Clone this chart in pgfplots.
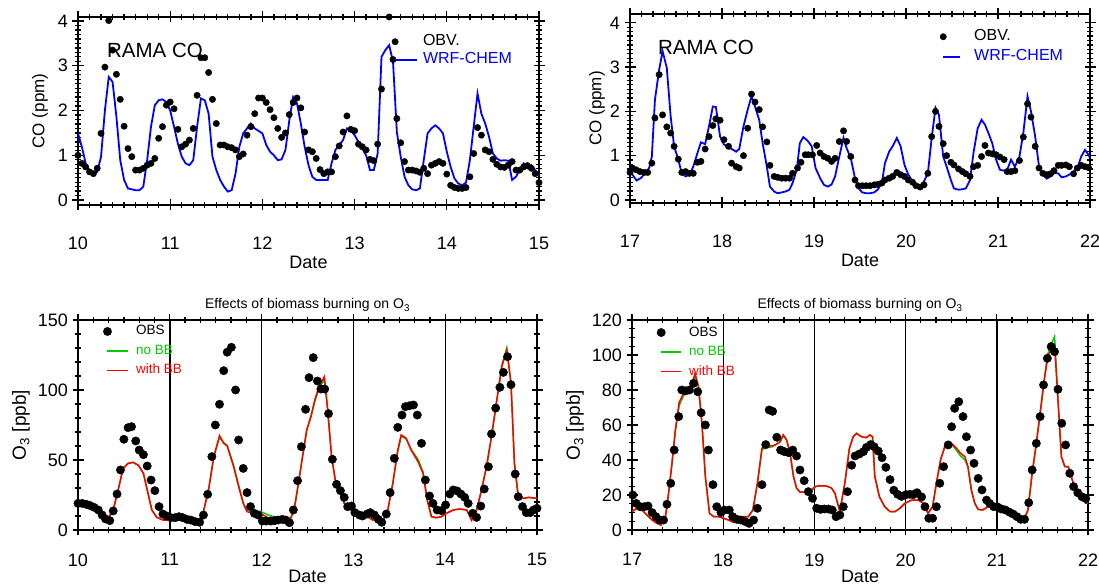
\documentclass[border=0pt]{standalone}
\usepackage{pgfplots}
\pgfplotsset{compat=1.18}
\usepackage{fontspec}
\setmainfont{Liberation Sans}
\definecolor{idlgreen}{RGB}{0,205,0}
\pgfplotsset{
  common/.style={
    scale only axis,
    axis line style={black, line width=1.6pt},
    tick align=center,
    major tick length=11pt, minor tick length=6pt,
    tick style={black, line width=1.3pt},
    /pgf/number format/assume math mode=true,
    tick label style={font=\fontsize{18}{20}\selectfont},
    yticklabel shift=1pt,
    xmin=0, xmax=120, xtick={0,24,...,120},
  },
  topax/.style={common,
    minor x tick num=7, minor y tick num=9, ytick={0,1,2,3,4},
    xticklabel shift=23pt,
    xlabel style={at={(axis description cs:0.5,-0.303)}, anchor=center},
    ylabel style={anchor=center},
    xlabel={\fontsize{18}{20}\selectfont Date}, ylabel={\fontsize{17}{19}\selectfont CO (ppm)},
  },
  botax/.style={common,
    minor x tick num=5,
    xticklabel shift=14.5pt,
    xlabel style={at={(axis description cs:0.5,-0.22)}, anchor=center},
    ylabel style={anchor=center},
    xlabel={\fontsize{18}{20}\selectfont Date}, ylabel={\fontsize{19}{21}\selectfont O\textsubscript{3} [ppb]},
    title={\fontsize{14}{16}\selectfont Effects of biomass burning on O\textsubscript{3}},
    title style={at={(axis description cs:0.5,1)}, anchor=base, yshift=5pt},
    extra x ticks={24,48,72,96}, extra x tick labels={},
    extra x tick style={grid=major, major grid style={black, line width=1.4pt}},
  },
  dotleg/.style={legend image code/.code={\draw[##1] plot coordinates {(0pt,0pt)};}},
  lineleg/.style 2 args={legend image code/.code={\draw[draw=#2, line width=1.8pt] (0pt,0pt) -- (#1,0pt);}},
}
\begin{document}
\begin{tikzpicture}
\useasboundingbox (0,0) rectangle (1099pt,585pt);

% ---------------- top left ----------------
\begin{axis}[topax, at={(78pt,380pt)}, anchor=south west, width=461pt, height=188pt,
  ymin=-0.11, ymax=4.09, xticklabels={10,11,12,13,14,15},
  ylabel style={at={(axis description cs:-0.0824,0.5)}},
  legend style={draw=none, fill=none, at={(axis description cs:0.681,0.9136)}, anchor=north west,
    inner sep=0pt, outer sep=0pt, row sep=1pt, font=\fontsize{16}{18}\selectfont,
    nodes={inner sep=1pt, text height=11.5pt, text depth=3.5pt},
    /tikz/every odd column/.append style={column sep=4pt}},
  legend cell align=left]
\addplot[only marks, mark=*, mark size=3.2pt, black, dotleg] coordinates {
(0,1.00)(1,0.82)(2,0.74)(3,0.63)(4,0.59)(5,0.71)(6,1.49)(7,2.97)(8,4.01)(9,3.35)(10,2.81)(11,2.25)(12,1.65)(13,1.15)(14,0.97)(15,0.67)(16,0.67)(17,0.71)(18,0.78)(19,0.82)(20,0.93)(21,1.38)(22,1.64)(23,2.12)(24,2.19)(25,2.04)(26,1.58)(27,1.19)(28,1.25)(29,1.34)(30,1.60)(31,2.34)(32,3.18)(33,3.18)(34,2.85)(35,2.25)(36,1.71)(37,1.23)(38,1.23)(39,1.19)(40,1.17)(41,1.12)(42,0.97)(43,1.03)(44,1.45)(45,1.64)(46,1.93)(47,2.28)(48,2.28)(49,2.18)(50,2.02)(51,1.84)(52,1.60)(53,1.40)(54,1.50)(55,1.91)(56,2.18)(57,2.28)(58,2.06)(59,1.52)(60,1.12)(61,1.08)(62,0.93)(63,0.68)(64,0.59)(65,0.63)(66,0.63)(67,0.97)(68,1.21)(69,1.52)(70,1.88)(71,1.58)(72,1.55)(73,1.25)(74,1.19)(75,1.12)(76,0.91)(77,0.88)(78,1.25)(79,2.48)(81,4.09)(82,3.14)(83,1.82)(84,1.28)(85,0.86)(86,0.67)(87,0.67)(88,0.65)(89,0.62)(90,0.71)(91,0.59)(92,0.78)(93,0.82)(94,0.86)(95,0.82)(96,0.58)(97,0.33)(98,0.28)(99,0.26)(100,0.26)(101,0.28)(102,0.52)(103,1.04)(104,1.62)(105,1.45)(106,1.12)(107,1.08)(108,0.91)(109,0.80)(110,0.74)(111,0.73)(112,0.78)(113,0.86)(114,0.67)(115,0.67)(116,0.74)(117,0.77)(118,0.71)(119,0.59)(120,0.39)};
\addlegendentry{OBV.}
\addplot[blue, line width=1.8pt, lineleg={22pt}{blue}] coordinates {
(0,1.49)(1,1.19)(2,0.82)(3,0.63)(4,0.56)(5,0.63)(6,0.97)(7,2.00)(8,2.75)(9,2.64)(10,1.86)(11,0.89)(12,0.45)(13,0.26)(15,0.22)(16,0.22)(17,0.30)(18,0.89)(19,1.64)(20,2.12)(21,2.23)(22,2.25)(23,2.19)(24,2.00)(25,1.64)(26,1.26)(27,0.97)(28,0.82)(29,0.78)(30,0.89)(31,1.64)(32,2.27)(33,2.23)(34,1.93)(35,0.97)(36,0.67)(37,0.45)(38,0.30)(39,0.19)(40,0.22)(41,0.59)(42,1.19)(43,1.49)(45,1.71)(46,1.60)(48,1.49)(49,1.23)(50,1.08)(51,1.00)(52,0.89)(53,0.91)(54,1.12)(55,1.78)(56,2.30)(57,2.16)(58,1.71)(59,1.19)(60,0.78)(61,0.52)(62,0.45)(63,0.45)(64,0.45)(65,0.45)(66,0.82)(67,1.12)(68,1.23)(69,1.34)(70,1.60)(71,1.56)(72,1.45)(73,1.30)(74,1.15)(75,1.00)(76,0.67)(77,0.67)(78,1.04)(79,3.20)(80,3.35)(81,3.46)(82,3.09)(83,1.52)(84,0.97)(85,0.52)(86,0.33)(87,0.24)(88,0.22)(89,0.26)(90,0.89)(91,1.49)(92,1.60)(93,1.67)(94,1.60)(95,1.49)(96,1.08)(97,0.74)(98,0.48)(99,0.37)(100,0.33)(101,0.39)(102,0.89)(103,1.64)(104,2.38)(105,1.93)(106,1.71)(107,1.41)(108,1.04)(109,0.93)(110,0.88)(111,0.89)(112,0.88)(113,0.45)(114,0.52)(115,0.67)(116,0.82)(117,0.71)(118,0.78)(119,0.67)(120,0.56)};
\addlegendentry{\textcolor{blue}{WRF-CHEM}}
\node[font=\fontsize{20.5}{22}\selectfont, inner sep=0pt] at (axis description cs:0.167,0.824) {RAMA CO};
\end{axis}

% ---------------- top right ----------------
\begin{axis}[topax, at={(630pt,382pt)}, anchor=south west, width=460pt, height=189pt,
  ymin=-0.07, ymax=4.2, xticklabels={17,18,19,20,21,22},
  ylabel style={at={(axis description cs:-0.0717,0.5)}},
  legend style={draw=none, fill=none, at={(axis description cs:0.674,0.9246)}, anchor=north west,
    inner sep=0pt, outer sep=0pt, row sep=3pt, font=\fontsize{16}{18}\selectfont,
    nodes={inner sep=1pt, text height=11.5pt, text depth=3.5pt},
    /tikz/every odd column/.append style={column sep=12pt}},
  legend cell align=left]
\addplot[only marks, mark=*, mark size=3.2pt, black, dotleg] coordinates {
(0,0.62)(0.6,0.72)(1.6,0.68)(2.6,0.64)(3.7,0.62)(4.6,0.62)(5.7,0.83)(6.5,1.85)(7.6,2.83)(8.5,1.92)(9.6,1.65)(10.6,1.51)(11.5,1.21)(12.6,0.92)(13.5,0.62)(14.5,0.64)(15.5,0.60)(16.5,0.60)(17.6,0.85)(18.5,0.87)(19.6,1.15)(20.6,1.43)(21.6,1.68)(22.4,1.83)(23.5,1.80)(24.5,1.36)(25.7,1.21)(26.5,0.83)(27.7,0.75)(28.5,0.72)(29.6,1.00)(30.7,1.62)(31.7,2.39)(32.6,2.21)(33.7,2.04)(34.6,1.65)(35.7,1.31)(36.5,0.78)(37.6,0.53)(38.5,0.51)(39.6,0.49)(40.6,0.49)(41.6,0.49)(42.4,0.60)(43.7,0.72)(44.6,0.85)(45.7,1.02)(46.5,1.02)(47.6,1.02)(48.7,1.23)(49.6,1.06)(50.6,0.98)(51.6,0.94)(52.6,0.87)(53.5,0.94)(54.6,1.32)(55.7,1.56)(56.5,1.32)(57.6,0.98)(58.7,0.45)(59.6,0.32)(60.6,0.32)(61.6,0.32)(62.6,0.32)(63.7,0.34)(64.6,0.35)(65.7,0.38)(66.5,0.45)(67.6,0.49)(68.5,0.53)(69.6,0.62)(70.6,0.57)(71.6,0.53)(72.6,0.45)(73.7,0.40)(74.6,0.32)(75.7,0.29)(76.7,0.34)(77.7,0.60)(78.7,1.43)(79.7,2.00)(80.6,1.66)(81.7,1.27)(82.6,1.00)(83.7,0.85)(84.5,0.79)(85.7,0.70)(86.7,0.64)(87.6,0.59)(88.7,0.53)(89.6,0.75)(90.7,0.78)(91.7,0.98)(92.6,1.23)(93.5,1.06)(94.5,1.04)(95.5,1.02)(96.5,0.97)(97.6,0.91)(98.4,0.64)(99.4,0.64)(100.4,0.66)(101.6,0.89)(102.6,1.42)(103.7,2.17)(104.6,1.87)(105.7,1.21)(106.7,0.72)(107.7,0.60)(108.7,0.57)(109.7,0.59)(110.6,0.66)(111.7,0.78)(112.6,0.78)(113.7,0.79)(114.6,0.75)(115.7,0.59)(116.7,0.72)(117.7,0.78)(118.7,0.75)(119.6,0.73)};
\addlegendentry{OBV.}
\addplot[blue, line width=1.8pt, lineleg={17pt}{blue}] coordinates {
(0,0.80)(0.4,0.60)(1.7,0.44)(2.8,0.49)(3.9,0.60)(5.0,0.72)(5.7,0.98)(6.5,2.26)(7.6,2.94)(8.5,3.36)(9.6,2.98)(10.6,1.89)(11.5,1.21)(12.6,0.91)(13.5,0.60)(14.5,0.53)(15.5,0.57)(16.5,0.75)(17.6,1.06)(18.5,1.30)(19.6,1.26)(20.6,1.66)(21.6,2.11)(22.4,2.10)(23.5,1.43)(24.5,1.25)(25.7,1.21)(26.5,1.15)(27.7,1.09)(28.5,1.15)(29.6,1.66)(30.7,2.04)(31.7,2.34)(32.6,2.11)(33.7,1.81)(34.6,1.28)(35.7,0.75)(36.5,0.30)(37.6,0.19)(38.5,0.15)(39.6,0.17)(40.6,0.19)(41.6,0.23)(42.4,0.38)(43.5,0.68)(44.3,1.28)(45.2,1.42)(46.3,1.34)(47.4,1.21)(48.4,0.72)(49.6,0.49)(50.6,0.34)(51.6,0.30)(52.6,0.35)(53.5,0.53)(54.6,0.98)(55.7,1.40)(56.5,1.17)(57.6,0.94)(58.7,0.49)(59.6,0.26)(60.6,0.17)(61.6,0.15)(62.6,0.15)(63.7,0.17)(64.6,0.23)(65.7,0.38)(66.5,0.83)(67.6,1.09)(68.5,1.21)(69.6,1.40)(70.6,1.21)(71.6,0.79)(72.6,0.57)(73.7,0.42)(74.6,0.34)(75.7,0.30)(76.7,0.42)(77.7,0.60)(78.7,1.40)(79.7,2.08)(80.6,1.92)(81.7,0.98)(82.6,0.75)(83.7,0.45)(84.5,0.26)(85.7,0.23)(86.7,0.24)(87.6,0.26)(88.7,0.45)(89.6,1.06)(90.7,1.62)(91.7,1.81)(92.6,1.70)(93.5,1.51)(94.5,1.28)(95.5,0.91)(96.5,0.68)(97.6,0.66)(98.4,0.68)(99.4,0.91)(100.4,0.75)(101.6,0.98)(102.6,1.51)(103.7,2.34)(104.6,2.00)(105.7,1.43)(106.7,0.75)(107.7,0.57)(108.7,0.48)(109.7,0.53)(110.6,0.60)(111.7,0.60)(112.6,0.51)(113.7,0.53)(114.6,0.57)(115.7,0.64)(116.7,0.72)(117.7,0.98)(118.7,1.13)(119.6,1.02)(120,0.95)};
\addlegendentry{\textcolor{blue}{WRF-CHEM}}
\node[font=\fontsize{20.5}{22}\selectfont, inner sep=0pt] at (axis description cs:0.165,0.825) {RAMA CO};
\end{axis}

% ---------------- bottom left ----------------
\begin{axis}[botax, at={(78pt,55pt)}, anchor=south west, width=459pt, height=210pt,
  ymin=0, ymax=150, ytick={0,50,100,150}, minor y tick num=4, xticklabels={10,11,12,13,14,15},
  ylabel style={at={(axis description cs:-0.124,0.5)}},
  legend style={draw=none, fill=none, at={(axis description cs:0.0551,0.981)}, anchor=north west,
    inner sep=0pt, outer sep=0pt, row sep=4.5pt, font=\fontsize{13.5}{15}\selectfont,
    nodes={inner sep=1pt, text height=10pt, text depth=3pt},
    /tikz/every odd column/.append style={column sep=5.7pt}},
  legend cell align=left]
\addplot[only marks, mark=*, mark size=4.2pt, black, dotleg] coordinates {
(0,19.0)(1.1,19.0)(2.2,18.3)(3.2,17.4)(4.2,16.2)(5.3,14.3)(6.3,10.7)(7.2,7.9)(8.3,6.7)(9.2,13.6)(10.2,25.7)(11.1,42.9)(12.0,64.8)(13.1,73.1)(14.0,73.8)(15.1,63.6)(16.0,57.1)(17.1,53.8)(18.1,45.7)(19.1,35.7)(20.1,28.1)(21.2,16.7)(22.2,11.4)(23.2,10.0)(24.3,8.8)(25.4,8.8)(26.4,9.5)(27.4,8.8)(28.5,7.6)(29.5,7.1)(30.6,6.0)(31.8,5.5)(32.8,10.7)(33.9,25.5)(35.0,52.4)(35.9,75.0)(37.0,89.8)(38.1,113.8)(39.0,127.0)(40.1,130.5)(41.2,100.0)(42.0,64.3)(43.2,44.0)(44.2,26.7)(45.1,16.7)(46.1,11.9)(47.1,10.7)(48.2,6.4)(49.2,6.4)(50.4,6.4)(51.4,6.7)(52.3,7.1)(53.4,7.6)(54.3,7.1)(55.3,5.2)(56.3,14.3)(57.4,35.2)(58.4,59.5)(59.5,86.2)(60.4,108.8)(61.5,123.1)(62.6,106.4)(63.5,100.7)(64.5,100.7)(65.5,83.1)(66.5,50.5)(67.6,32.6)(68.6,28.1)(69.6,23.3)(70.5,16.7)(71.5,17.1)(72.4,12.4)(73.6,10.7)(74.4,10.0)(75.6,11.4)(76.4,12.4)(77.5,10.7)(78.5,7.6)(79.4,5.5)(80.6,11.4)(81.6,26.7)(82.7,51.2)(83.6,73.3)(84.7,82.1)(85.6,88.1)(86.7,88.8)(87.7,89.3)(88.7,82.1)(89.8,61.9)(90.8,35.7)(91.9,24.3)(92.8,19.0)(93.9,14.3)(95.0,13.8)(96.1,17.9)(97.2,25.7)(98.1,28.6)(99.1,27.9)(100.1,25.7)(101.1,23.3)(102.0,19.0)(103.2,11.9)(104.2,9.0)(105.3,17.1)(106.2,29.3)(107.3,45.2)(108.1,68.6)(109.2,87.1)(110.3,101.9)(111.2,112.6)(112.3,123.8)(113.2,103.8)(114.3,40.0)(115.1,23.8)(116.2,16.7)(117.2,12.4)(118.2,12.4)(119.1,14.3)(120.0,15.5)};
\addlegendentry{OBS}
\addplot[idlgreen, line width=1.5pt, lineleg={21pt}{idlgreen}] coordinates {
(0,17.1)(2.2,17.6)(4.4,15.7)(5.7,13.1)(7.0,9.5)(7.9,8.3)(9.2,14.3)(10.5,28.6)(11.8,44.0)(13.1,47.6)(14.4,48.3)(15.8,46.2)(17.1,40.5)(18.1,28.6)(19.3,14.3)(20.6,9.0)(22.3,7.1)(24.1,7.1)(25.4,8.8)(27.1,8.8)(28.5,7.6)(30.2,7.1)(31.5,6.0)(32.8,13.1)(34.2,29.8)(35.5,52.4)(37.0,66.0)(38.1,62.5)(39.0,60.5)(40.7,46.0)(42.0,32.0)(43.2,19.5)(44.2,13.5)(45.8,12.5)(47.7,13.3)(49.5,11.0)(51.2,9.5)(53.0,8.8)(54.3,8.3)(55.6,8.5)(56.5,14.3)(57.5,31.0)(58.7,52.4)(59.8,71.4)(60.9,81.0)(61.9,91.5)(63.0,101.0)(64.4,107.5)(65.2,88.1)(66.3,52.4)(67.4,33.3)(68.6,26.2)(69.6,19.0)(70.7,15.7)(71.8,13.1)(73.1,10.7)(74.4,8.8)(75.7,9.5)(77.1,7.1)(78.4,9.5)(79.7,6.0)(81.0,14.3)(82.3,33.3)(83.6,56.0)(84.5,67.0)(85.8,65.0)(87.1,57.5)(88.9,50.5)(90.2,41.5)(91.3,21.4)(92.4,9.5)(93.7,8.8)(95.0,9.5)(96.3,11.9)(98.1,14.3)(99.8,15.0)(101.6,14.3)(102.9,7.1)(104.2,14.3)(105.5,28.6)(106.8,45.2)(108.1,66.7)(109.5,92.9)(110.8,117.5)(112.1,130.0)(113.2,104.8)(114.1,47.6)(115.1,23.8)(116.5,22.6)(117.8,23.3)(120.0,22.6)};
\addlegendentry{\textcolor{idlgreen}{no BB}}
\addplot[red, line width=1.5pt, lineleg={21pt}{red}] coordinates {
(0,17.1)(2.2,17.6)(4.4,15.7)(5.7,13.1)(7.0,9.5)(7.9,8.3)(9.2,14.3)(10.5,28.6)(11.8,44.0)(13.1,47.6)(14.4,48.3)(15.8,46.2)(17.1,40.5)(18.1,28.6)(19.3,14.3)(20.6,9.0)(22.3,7.1)(24.1,7.1)(25.4,8.8)(27.1,8.8)(28.5,7.6)(30.2,7.1)(31.5,6.0)(32.8,13.1)(34.2,29.8)(35.5,52.4)(37.0,67.4)(38.1,61.9)(39.0,60.0)(40.7,45.2)(42.0,31.0)(43.2,19.0)(44.2,13.1)(45.8,11.9)(47.7,11.9)(49.5,9.0)(51.2,8.3)(53.0,8.3)(54.3,7.9)(55.6,8.3)(56.5,14.3)(57.5,31.0)(58.7,52.4)(59.8,71.4)(60.9,81.0)(61.9,92.9)(63.0,102.4)(64.4,109.5)(65.2,88.1)(66.3,52.4)(67.4,33.3)(68.6,26.2)(69.6,19.0)(70.7,15.7)(71.8,13.1)(73.1,10.7)(74.4,8.8)(75.7,9.5)(77.1,7.1)(78.4,9.5)(79.7,6.0)(81.0,14.3)(82.3,33.3)(83.6,57.1)(84.5,67.9)(85.8,65.5)(87.1,57.1)(88.9,48.8)(90.2,40.5)(91.3,21.4)(92.4,9.5)(93.7,8.8)(95.0,9.5)(96.3,11.9)(98.1,14.3)(99.8,15.0)(101.6,14.3)(102.9,7.1)(104.2,14.3)(105.5,28.6)(106.8,45.2)(108.1,66.7)(109.5,92.9)(110.8,116.7)(112.1,128.6)(113.2,104.8)(114.1,47.6)(115.1,23.8)(116.5,22.6)(117.8,23.3)(120.0,22.6)};
\addlegendentry{\textcolor{red}{with BB}}
\end{axis}

% ---------------- bottom right ----------------
\begin{axis}[botax, at={(632pt,55pt)}, anchor=south west, width=456pt, height=210pt,
  ymin=0, ymax=120, ytick={0,20,...,120}, minor y tick num=3, xticklabels={17,18,19,20,21,22},
  ylabel style={at={(axis description cs:-0.125,0.5)}},
  legend style={draw=none, fill=none, at={(axis description cs:0.0548,0.976)}, anchor=north west,
    inner sep=0pt, outer sep=0pt, row sep=4.5pt, font=\fontsize{13.5}{15}\selectfont,
    nodes={inner sep=1pt, text height=10pt, text depth=3pt},
    /tikz/every odd column/.append style={column sep=6pt}},
  legend cell align=left]
\addplot[only marks, mark=*, mark size=4.2pt, black, dotleg] coordinates {
(0.2,20.0)(1.1,15.2)(2.2,13.3)(3.2,13.3)(4.2,13.7)(5.3,9.9)(6.3,7.6)(7.3,5.7)(8.3,5.7)(9.2,14.7)(10.2,26.7)(11.1,45.7)(12.3,64.8)(13.1,80.0)(14.1,79.5)(15.1,80.0)(16.2,83.8)(17.3,79.0)(18.2,67.0)(19.3,60.0)(20.1,45.7)(21.3,25.9)(22.3,13.3)(23.4,10.0)(24.3,11.4)(25.6,11.4)(26.5,7.6)(27.6,6.1)(28.6,5.7)(29.8,4.8)(30.8,3.8)(32.0,5.7)(33.0,12.4)(34.2,25.9)(35.2,48.8)(36.1,68.6)(37.0,67.8)(38.1,53.0)(39.1,45.7)(40.1,44.8)(41.2,44.2)(42.3,45.7)(43.3,42.3)(44.2,34.3)(45.3,28.2)(46.4,21.9)(47.5,18.1)(48.6,12.4)(49.6,11.8)(50.6,12.0)(51.7,12.0)(52.7,11.4)(53.7,7.6)(54.7,8.6)(55.6,13.3)(56.7,21.9)(57.8,37.0)(58.7,42.3)(59.8,43.4)(60.9,44.8)(61.7,47.2)(62.8,48.8)(63.7,47.6)(64.8,45.1)(65.8,41.3)(66.8,35.8)(67.9,28.8)(68.9,22.7)(69.9,20.4)(70.9,19.2)(72.1,20.2)(73.1,20.4)(74.0,20.2)(75.0,21.3)(76.2,18.9)(77.1,13.3)(78.1,6.7)(79.1,6.7)(80.1,13.3)(81.0,26.7)(82.0,36.2)(83.2,48.6)(84.1,59.0)(84.9,69.5)(86.0,73.3)(87.1,64.8)(88.0,53.3)(89.1,45.7)(90.0,38.1)(91.1,29.5)(92.1,22.9)(93.3,17.1)(94.1,15.2)(95.2,13.3)(96.1,13.3)(97.2,12.0)(98.3,11.4)(99.4,10.1)(100.3,9.1)(101.3,7.6)(102.3,6.1)(103.3,6.1)(104.4,15.6)(105.3,34.3)(106.4,49.5)(107.4,64.8)(108.3,82.9)(109.3,98.1)(110.3,104.8)(111.2,101.9)(112.1,80.4)(113.1,61.0)(114.1,48.6)(115.2,32.4)(116.2,24.8)(117.3,21.3)(118.4,19.0)(119.4,18.0)};
\addlegendentry{OBS}
\addplot[idlgreen, line width=1.5pt, lineleg={20pt}{idlgreen}] coordinates {
(0,10.5)(1.3,12.4)(2.6,11.4)(3.9,8.6)(5.3,5.7)(6.6,3.8)(7.6,2.9)(8.8,7.6)(9.6,20.6)(10.5,37.7)(11.4,56.8)(12.4,71.0)(13.6,77.0)(14.6,78.5)(15.8,82.5)(16.6,88.0)(17.5,81.9)(18.4,61.0)(19.3,30.5)(20.4,9.5)(21.5,7.6)(22.8,7.6)(24.1,6.7)(25.4,5.7)(26.7,4.4)(28.0,5.7)(29.3,7.6)(30.6,7.6)(31.8,11.4)(33.0,26.7)(34.2,46.0)(35.5,47.0)(36.8,47.5)(37.7,48.6)(39.0,50.5)(39.8,54.3)(40.7,51.4)(41.6,43.8)(42.5,30.5)(43.3,24.0)(44.2,21.7)(45.5,21.7)(46.8,21.7)(48.2,24.8)(49.5,25.3)(51.2,25.1)(52.5,24.0)(53.4,21.0)(54.7,10.5)(56.0,26.7)(57.2,46.5)(58.2,53.3)(59.1,55.2)(60.4,53.3)(61.7,52.8)(62.6,54.3)(63.3,53.3)(63.9,30.5)(65.1,19.0)(66.5,13.3)(67.9,10.5)(69.2,10.5)(70.5,12.4)(71.8,15.2)(73.6,17.1)(75.3,17.1)(76.8,15.2)(77.9,9.5)(79.1,13.3)(80.1,26.7)(81.2,40.0)(82.3,47.6)(83.4,50.0)(84.3,48.5)(85.4,45.5)(86.4,42.5)(87.6,40.0)(88.4,36.2)(89.3,22.9)(90.2,15.2)(91.1,11.8)(92.2,11.4)(93.7,13.3)(95.0,13.3)(96.8,14.3)(98.1,13.3)(99.4,11.4)(100.7,9.5)(102.0,6.7)(103.1,5.7)(104.2,11.4)(105.3,32.4)(106.4,49.5)(107.4,66.7)(108.5,86.5)(109.4,100.5)(110.3,106.0)(111.2,110.5)(112.1,74.3)(113.0,41.9)(113.9,36.2)(114.8,36.2)(115.6,30.5)(116.5,24.0)(117.8,19.0)(119.1,16.2)(120.0,15.2)};
\addlegendentry{\textcolor{idlgreen}{no BB}}
\addplot[red, line width=1.5pt, lineleg={20pt}{red}] coordinates {
(0,10.5)(1.3,12.4)(2.6,11.4)(3.9,8.6)(5.3,5.7)(6.6,3.8)(7.6,2.9)(8.8,7.6)(9.6,20.6)(10.5,37.7)(11.4,56.8)(12.4,73.0)(13.6,78.1)(14.6,80.0)(15.8,83.8)(16.6,89.5)(17.5,81.9)(18.4,61.0)(19.3,30.5)(20.4,9.5)(21.5,7.6)(22.8,7.6)(24.1,6.7)(25.4,5.7)(26.7,4.4)(28.0,5.7)(29.3,7.6)(30.6,7.6)(31.8,11.4)(33.0,26.7)(34.2,46.7)(35.5,48.0)(36.8,48.0)(37.7,48.6)(39.0,50.5)(39.8,54.3)(40.7,51.4)(41.6,43.8)(42.5,30.5)(43.3,24.0)(44.2,21.7)(45.5,21.7)(46.8,21.7)(48.2,24.8)(49.5,25.3)(51.2,25.1)(52.5,24.0)(53.4,21.0)(54.7,10.5)(56.0,26.7)(57.2,46.5)(58.2,53.3)(59.1,55.2)(60.4,53.3)(61.7,52.8)(62.6,54.3)(63.3,53.3)(63.9,30.5)(65.1,19.0)(66.5,13.3)(67.9,10.5)(69.2,10.5)(70.5,12.4)(71.8,15.2)(73.6,17.1)(75.3,17.1)(76.8,15.2)(77.9,9.5)(79.1,13.3)(80.1,26.7)(81.2,40.0)(82.3,47.6)(83.4,50.5)(84.3,49.1)(85.4,46.7)(86.4,44.0)(87.6,41.9)(88.4,36.2)(89.3,22.9)(90.2,15.2)(91.1,11.8)(92.2,11.4)(93.7,13.3)(95.0,13.3)(96.8,14.3)(98.1,13.3)(99.4,11.4)(100.7,9.5)(102.0,6.7)(103.1,5.7)(104.2,11.4)(105.3,32.4)(106.4,49.5)(107.4,66.7)(108.5,85.7)(109.4,99.0)(110.3,103.0)(111.2,105.7)(112.1,74.3)(113.0,41.9)(113.9,36.2)(114.8,36.2)(115.6,30.5)(116.5,24.0)(117.8,19.0)(119.1,16.2)(120.0,15.2)};
\addlegendentry{\textcolor{red}{with BB}}
\end{axis}
\end{tikzpicture}
\end{document}
